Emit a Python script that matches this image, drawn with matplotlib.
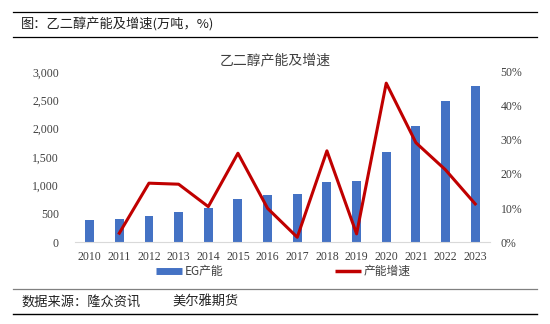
import matplotlib
matplotlib.use("Agg")
import matplotlib.pyplot as plt
from matplotlib.lines import Line2D
from matplotlib.ticker import FuncFormatter

plt.rcParams["font.family"] = ["Noto Sans CJK SC", "DejaVu Sans"]

# 数据
years = ["2010", "2011", "2012", "2013", "2014", "2015", "2016",
         "2017", "2018", "2019", "2020", "2021", "2022", "2023"]
capacity = [385, 400, 460, 535, 595, 755, 830, 840, 1055, 1075, 1590, 2055, 2480, 2755]
growth_years = years[1:]
growth = [2.6, 17.3, 17.0, 10.4, 26.1, 9.9, 1.4, 26.8, 2.4, 46.7, 29.2, 21.2, 11.2]

bar_color = "#4472C4"
line_color = "#C00000"
num_font = "Liberation Serif"

fig = plt.figure(figsize=(5.5, 3.24), dpi=100)
ax = fig.add_axes([0.136, 0.253, 0.755, 0.525])

x = range(len(years))
ax.bar(x, capacity, width=0.3, color=bar_color, zorder=2)
ax.set_xlim(-0.5, len(years) - 0.5)
ax.set_ylim(0, 3000)
ax.set_yticks(range(0, 3001, 500))
ax.yaxis.set_major_formatter(FuncFormatter(lambda v, p: f"{int(v):,}"))
ax.set_xticks(list(x))
ax.set_xticklabels(years)

ax2 = ax.twinx()
gx = [years.index(y) for y in growth_years]
ax2.plot(gx, growth, color=line_color, lw=2.2, zorder=3)
ax2.set_ylim(0, 50)
ax2.set_yticks(range(0, 51, 10))
ax2.yaxis.set_major_formatter(FuncFormatter(lambda v, p: f"{int(v)}%"))

for a in (ax, ax2):
    for s in a.spines.values():
        s.set_visible(False)
    a.tick_params(length=0, labelsize=8.5, colors="#404040")
    for lab in a.get_xticklabels() + a.get_yticklabels():
        lab.set_fontfamily(num_font)
ax.spines["bottom"].set_visible(True)
ax.spines["bottom"].set_color("#D9D9D9")
ax.tick_params(axis="y", pad=11.5)
ax.tick_params(axis="x", pad=6.5)
ax2.tick_params(axis="y", pad=7.5)

fig.text(0.5, 0.815, "乙二醇产能及增速", ha="center", va="center",
         fontsize=10, color="#404040")

handles = [Line2D([], [], color=bar_color, lw=5, solid_capstyle="butt"),
           Line2D([], [], color=line_color, lw=2.5, solid_capstyle="butt")]
fig.legend(handles, ["EG产能", "产能增速"], loc="center", ncol=2,
           bbox_to_anchor=(0.515, 0.163), frameon=False, fontsize=8.5,
           handlelength=2.2, handletextpad=0.2, columnspacing=9.5,
           labelcolor="#404040")

# 页眉和页脚
x0, x1 = 13 / 550, 537 / 550
fig.add_artist(Line2D([x0, x1], [1 - 11.5 / 324] * 2, color="black", lw=0.9))
fig.add_artist(Line2D([x0, x1], [1 - 36.5 / 324] * 2, color="black", lw=0.9))
fig.text(21 / 550, 1 - 24 / 324, "图：乙二醇产能及增速(万吨，%)", va="center",
         fontsize=9.5, color="#222222")
fig.add_artist(Line2D([x0, x1], [1 - 289 / 324] * 2, color="#808080", lw=0.9))
fig.add_artist(Line2D([x0, x1], [1 - 314 / 324] * 2, color="black", lw=1.0))
fig.text(21 / 550, 1 - 302 / 324, "数据来源：隆众资讯", va="center",
         fontsize=9.5, color="#222222")
fig.text(172 / 550, 1 - 302 / 324, "美尔雅期货", va="center",
         fontsize=9.5, color="#222222")

fig.savefig("out.png", dpi=100)
